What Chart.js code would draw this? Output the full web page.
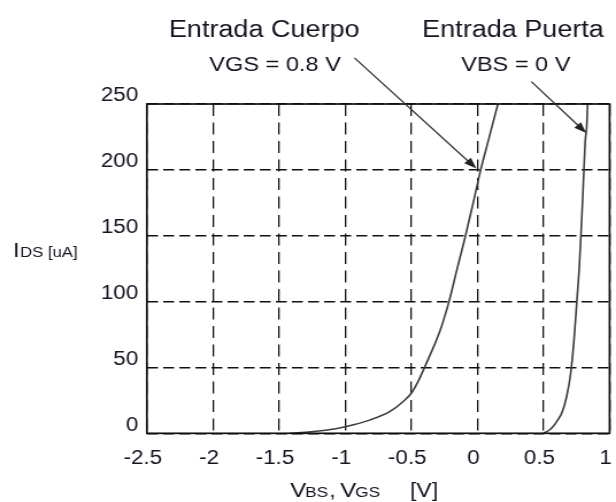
<!DOCTYPE html>
<html><head><meta charset="utf-8">
<script src="https://cdn.jsdelivr.net/npm/chart.js@4/dist/chart.umd.min.js"></script>
<style>
html,body{margin:0;padding:0;background:#fff;overflow:hidden;width:616px;height:502px;}
#wrap{position:absolute;left:0;top:0;width:536px;height:502px;transform:scaleX(1.1493);transform-origin:0 0;}
canvas{display:block;}
</style></head><body>
<div id="wrap"><canvas id="c" width="536" height="502"></canvas></div>
<script>
// ---- data ----
const xTicks = [-2.5, -2, -1.5, -1, -0.5, 0, 0.5, 1];
const yTicks = [0, 50, 100, 150, 200, 250];
const cuerpoV = [-1.42, -1.3, -1.15, -1.0, -0.815, -0.664, -0.563, -0.5, -0.45, -0.4, -0.28, -0.215, -0.153, -0.09, -0.032, 0.025, 0.09, 0.155];
const cuerpoI = [0, 0.7, 2.3, 5, 10, 16.4, 24, 30.4, 39, 50, 78.6, 100, 125, 150, 175, 200, 225, 250];
const puertaV = [0.5, 0.52, 0.545, 0.576, 0.607, 0.639, 0.676, 0.705, 0.73, 0.752, 0.77, 0.783, 0.795, 0.806, 0.816, 0.828, 0.833];
const puertaI = [0, 1, 2.5, 5.5, 10, 15.6, 28.3, 45, 70, 100, 125, 150, 175, 200, 222, 235, 250];
const arrowCuerpo = [-0.93, 285, -0.008, 201];
const arrowPuerta = [0.408, 267, 0.823, 228];
const titleCuerpo = 'Entrada Cuerpo';
const condCuerpo = 'VGS = 0.8 V';
const titlePuerta = 'Entrada Puerta';
const condPuerta = 'VBS = 0 V';

const FONT = "'Liberation Sans', Arial, sans-serif";
const TXT = '#15151f';
const toPts = (xs, ys) => xs.map((v, i) => ({x: v, y: ys[i]}));

function drawArrow(ctx, x, y, a) {
  const x1 = x.getPixelForValue(a[0]), y1 = y.getPixelForValue(a[1]);
  const x2 = x.getPixelForValue(a[2]), y2 = y.getPixelForValue(a[3]);
  const ang = Math.atan2(y2 - y1, x2 - x1);
  const L = 11, W = 4;
  ctx.strokeStyle = '#333'; ctx.fillStyle = '#222'; ctx.lineWidth = 1.3;
  ctx.beginPath(); ctx.moveTo(x1, y1);
  ctx.lineTo(x2 - Math.cos(ang) * L * 0.8, y2 - Math.sin(ang) * L * 0.8); ctx.stroke();
  ctx.beginPath();
  ctx.moveTo(x2, y2);
  ctx.lineTo(x2 - L * Math.cos(ang) + W * Math.sin(ang), y2 - L * Math.sin(ang) - W * Math.cos(ang));
  ctx.lineTo(x2 - L * Math.cos(ang) - W * Math.sin(ang), y2 - L * Math.sin(ang) + W * Math.cos(ang));
  ctx.closePath(); ctx.fill();
}

function pieces(ctx, parts, baseline) {
  parts.forEach(p => {
    ctx.font = p[2] + 'px ' + FONT;
    ctx.fillText(p[0], p[1], baseline);
  });
}

const annot = {
  id: 'annot',
  afterDraw(chart) {
    const {ctx, chartArea: a, scales: {x, y}} = chart;
    ctx.save();
    ctx.setLineDash([]);
    ctx.strokeStyle = '#111'; ctx.lineWidth = 1.7;
    ctx.strokeRect(a.left, a.top, a.right - a.left, a.bottom - a.top);
    drawArrow(ctx, x, y, arrowCuerpo);
    drawArrow(ctx, x, y, arrowPuerta);
    ctx.fillStyle = TXT;
    ctx.textBaseline = 'alphabetic';
    ctx.textAlign = 'center';
    ctx.font = '23.5px ' + FONT;
    ctx.fillText(titleCuerpo, 229.9, 36.7);
    ctx.fillText(titlePuerta, 446.4, 36.7);
    ctx.font = '20.5px ' + FONT;
    ctx.fillText(condCuerpo, 239.3, 70.7);
    ctx.fillText(condPuerta, 448.8, 70.7);
    ctx.textAlign = 'left';
    // y axis title
    pieces(ctx, [['I', 11.3, 21], ['DS [uA]', 17.5, 14.5]], 256.5);
    // x axis title
    pieces(ctx, [['V', 252.4, 21], ['BS', 265.4, 15], [',', 286.5, 20], ['V', 295.9, 21], ['GS', 309, 15], ['[V]', 356.8, 20]], 496.5);
    ctx.restore();
  }
};

new Chart(document.getElementById('c'), {
  type: 'scatter',
  data: {
    datasets: [
      {data: toPts(cuerpoV, cuerpoI), showLine: true, borderColor: '#3c3c3c', borderWidth: 1.6, pointRadius: 0, cubicInterpolationMode: 'monotone', fill: false},
      {data: toPts(puertaV, puertaI), showLine: true, borderColor: '#3c3c3c', borderWidth: 1.6, pointRadius: 0, cubicInterpolationMode: 'monotone', fill: false}
    ]
  },
  options: {
    responsive: false,
    devicePixelRatio: 1,
    animation: false,
    events: [],
    layout: {padding: {left: 0, right: 5.6, top: 104, bottom: 0}},
    plugins: {legend: {display: false}, title: {display: false}, tooltip: {enabled: false}},
    scales: {
      x: {
        type: 'linear', min: -2.5, max: 1,
        afterBuildTicks: s => { s.ticks = xTicks.map(v => ({value: v})); },
        ticks: {font: {family: FONT, size: 19.5}, color: TXT, padding: 14, labelOffset: -3.5, maxRotation: 0, autoSkip: false, callback: v => String(v)},
        grid: {color: '#111', lineWidth: 1.3, drawTicks: false},
        border: {display: false, dash: [12, 6.5]},
        afterFit: s => { s.height = 68.7; s.paddingLeft = 0; s.paddingRight = 0; }
      },
      y: {
        type: 'linear', min: 0, max: 250,
        afterBuildTicks: s => { s.ticks = yTicks.map(v => ({value: v})); },
        ticks: {font: {family: FONT, size: 19.5}, color: TXT, padding: 7.5, labelOffset: -8, callback: v => String(v)},
        grid: {color: '#111', lineWidth: 1.5, drawTicks: false},
        border: {display: false, dash: [9.5, 4.5]},
        afterFit: s => { s.width = 127.8; s.paddingTop = 0; s.paddingBottom = 0; }
      }
    }
  },
  plugins: [annot]
});
</script>
</body></html>
